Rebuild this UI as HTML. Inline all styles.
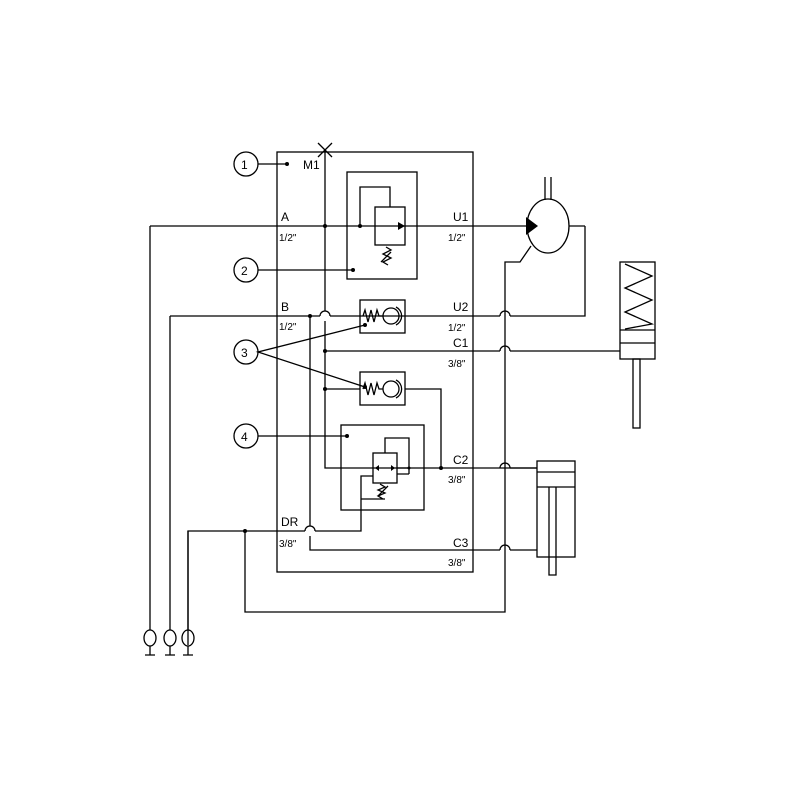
<!DOCTYPE html>
<html><head><meta charset="utf-8"><style>html,body{margin:0;padding:0;background:#fff}svg{display:block}text{font-family:"Liberation Sans",sans-serif;fill:#000}</style></head><body>
<svg width="800" height="800" viewBox="0 0 800 800" xmlns="http://www.w3.org/2000/svg">
<g fill="none" stroke="#000" stroke-width="1.3">
<rect x="277" y="152" width="196" height="420"/>
<path d="M318 143 L332 157 M332 143 L318 157"/>
<line x1="325" y1="150" x2="325" y2="311"/>
<path d="M325 311 a5 5 0 0 1 0 0"/>
<path d="M325 321 L325 468 L537 468"/>
<circle cx="246" cy="164" r="12"/><line x1="258" y1="164" x2="287" y2="164"/>
<circle cx="246" cy="270" r="12"/><line x1="258" y1="270" x2="353" y2="270"/>
<circle cx="246" cy="352" r="12"/><path d="M365 325 L258 352 L365 387"/>
<circle cx="246" cy="436" r="12"/><line x1="258" y1="436" x2="347" y2="436"/>
<rect x="347" y="172" width="70" height="107"/>
<rect x="375" y="207" width="30" height="38"/>
<path d="M360 226 L360 187 L390 187 L390 207"/>
<path d="M386 247 l5 3 l-8 4 l8 4 l-8 4 l5 3 M381 262 l10 -10"/>
<path d="M150 226 L530 226"/>
<path d="M585 226 L569 226 M585 226 L585 316 L510 316 M500 316 L330 316 M320 316 L170 316"/>
<path d="M500 316 a5 5 0 0 1 10 0 M320 316 a5 5 0 0 1 10 0"/>
<ellipse cx="548" cy="226" rx="21" ry="27"/>
<path d="M545 177 V200 M551 177 V200"/>
<path d="M531 246 L520 262 L505 262 L505 612 L245 612 L245 531"/>
<path d="M310 316 L310 526 M310 536 L310 550 L500 550 M510 550 L537 550 M500 550 a5 5 0 0 1 10 0"/>
<path d="M305 531 a5 5 0 0 1 10 0"/>
<path d="M188 645 L188 531 L305 531 M315 531 L361 531 L361 476 L373 476"/>
<rect x="360" y="300" width="45" height="33"/>
<path d="M363 316 l2 -6 l3 12 l3 -12 l3 12 l3 -12 l2 6 L383 316"/>
<circle cx="391" cy="316" r="8"/>
<path d="M396 307 a10 10 0 0 1 0 18"/>
<path d="M325 351 L500 351 M510 351 L620 351 M500 351 a5 5 0 0 1 10 0"/>
<rect x="360" y="372" width="45" height="33"/>
<path d="M363 389 l2 -6 l3 12 l3 -12 l3 12 l3 -12 l2 6 L383 389"/>
<circle cx="391" cy="389" r="8"/>
<path d="M396 380 a10 10 0 0 1 0 18"/>
<path d="M325 389 L360 389 M405 389 L441 389 L441 468"/>
<path d="M537 468 L510 468 M500 468 a5 5 0 0 1 10 0"/>
<rect x="341" y="425" width="83" height="85"/>
<rect x="373" y="453" width="24" height="30"/>
<path d="M397 468 L409 468 M409 474 L409 438 L385 438 L385 453 M409 474 L397 474"/>
<path d="M361 499 L385 499 M380 484 l5 3 l-7 3 l7 3 l-7 3 l5 3 M378 496 l10 -10"/>
<line x1="150" y1="226" x2="150" y2="630"/>
<line x1="170" y1="316" x2="170" y2="630"/>
<line x1="188" y1="531" x2="188" y2="630"/>
<ellipse cx="150" cy="638" rx="6" ry="8"/><ellipse cx="170" cy="638" rx="6" ry="8"/><ellipse cx="188" cy="638" rx="6" ry="8"/>
<path d="M150 646 V655 M145 655 H155 M170 646 V655 M165 655 H175 M188 646 V655 M183 655 H193"/>
<rect x="620" y="262" width="35" height="97"/>
<path d="M620 330 H655 M620 343 H655"/>
<path d="M625 264 l27 12 l-27 12 l27 12 l-27 12 l27 12 l-27 5"/>
<rect x="633" y="359" width="7" height="69"/>
<rect x="537" y="461" width="38" height="96"/>
<path d="M537 472 H575 M537 487 H575"/>
<path d="M549 487 V575 H556 V487"/>
</g>
<g fill="#000">
<path d="M526 217 L538 226 L526 235 Z"/>
<path d="M398 222 L405 226 L398 230 Z"/>
<path d="M375 468 l4 -3 v6 Z M395 468 l-4 -3 v6 Z"/>
<circle cx="287" cy="164" r="2"/><circle cx="353" cy="270" r="2"/><circle cx="347" cy="436" r="2"/>
<circle cx="325" cy="226" r="2"/><circle cx="360" cy="226" r="2"/>
<circle cx="310" cy="316" r="2"/><circle cx="325" cy="351" r="2"/><circle cx="325" cy="389" r="2"/>
<circle cx="441" cy="468" r="2"/><circle cx="245" cy="531" r="2"/><circle cx="409" cy="468" r="1.5"/>
<circle cx="365" cy="325" r="2"/><circle cx="365" cy="387" r="2"/>
</g>
<g font-size="12">
<text x="241" y="169">1</text><text x="241" y="275">2</text><text x="241" y="357">3</text><text x="241" y="441">4</text>
<text x="303" y="169">M1</text>
<text x="281" y="221">A</text><text x="453" y="221">U1</text>
<text x="281" y="311">B</text><text x="453" y="311">U2</text>
<text x="453" y="347">C1</text><text x="453" y="464">C2</text>
<text x="281" y="526">DR</text><text x="453" y="547">C3</text>
</g>
<g font-size="10">
<text x="279" y="241">1/2"</text><text x="448" y="241">1/2"</text>
<text x="279" y="330">1/2"</text><text x="448" y="331">1/2"</text>
<text x="448" y="367">3/8"</text><text x="448" y="483">3/8"</text>
<text x="279" y="547">3/8"</text><text x="448" y="566">3/8"</text>
</g>
</svg>
</body></html>
